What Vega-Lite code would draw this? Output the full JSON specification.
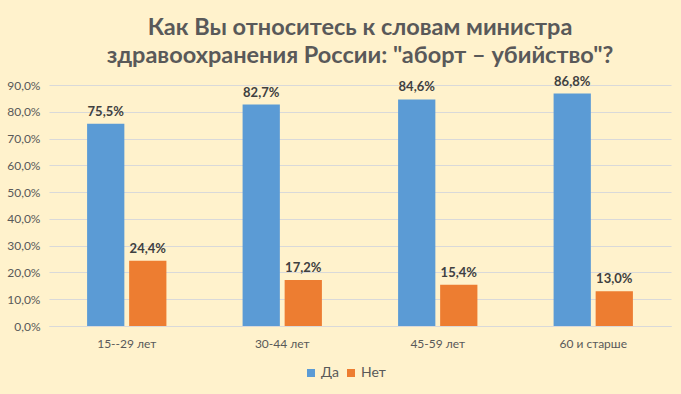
{
  "$schema": "https://vega.github.io/schema/vega-lite/v6.json",
  "autosize": "none",
  "width": 622,
  "height": 241,
  "padding": {"left": 49, "top": 85, "right": 10, "bottom": 68},
  "background": "#FFF2CC",
  "config": {
    "locale": {"number": {"decimal": ",", "thousands": " ", "grouping": [3], "currency": ["", " ₽"]}},
    "view": {"stroke": null},
    "font": "Lato"
  },
  "title": {
    "text": ["Как Вы относитесь к словам министра", "здравоохранения России: \"аборт – убийство\"?"],
    "font": "Lato",
    "fontSize": 23.5,
    "fontWeight": "bold",
    "color": "#595959",
    "lineHeight": 28,
    "anchor": "middle",
    "frame": "group",
    "offset": 8
  },
  "data": {
    "values": [
      {"group": "15--29 лет", "answer": "Да", "value": 0.755},
      {"group": "15--29 лет", "answer": "Нет", "value": 0.244},
      {"group": "30-44 лет", "answer": "Да", "value": 0.827},
      {"group": "30-44 лет", "answer": "Нет", "value": 0.172},
      {"group": "45-59 лет", "answer": "Да", "value": 0.846},
      {"group": "45-59 лет", "answer": "Нет", "value": 0.154},
      {"group": "60 и старше", "answer": "Да", "value": 0.868},
      {"group": "60 и старше", "answer": "Нет", "value": 0.130}
    ]
  },
  "encoding": {
    "x": {
      "field": "group",
      "type": "nominal",
      "sort": null,
      "scale": {"paddingInner": 0.49, "paddingOuter": 0.245},
      "axis": {
        "title": null,
        "labelAngle": 0,
        "labelColor": "#595959",
        "labelFontSize": 12,
        "labelPadding": 12,
        "ticks": false,
        "domainColor": "#D9D9D9",
        "grid": false
      }
    },
    "xOffset": {"field": "answer", "type": "nominal", "scale": {"paddingInner": 0.114}},
    "y": {
      "field": "value",
      "type": "quantitative",
      "scale": {"domain": [0, 0.9]},
      "axis": {
        "title": null,
        "format": ".1%",
        "values": [0, 0.1, 0.2, 0.3, 0.4, 0.5, 0.6, 0.7, 0.8, 0.9],
        "labelColor": "#595959",
        "labelFontSize": 12,
        "labelPadding": 9,
        "domain": false,
        "ticks": false,
        "gridColor": "#D9D9D9"
      }
    }
  },
  "layer": [
    {
      "mark": {"type": "bar"},
      "encoding": {
        "color": {
          "field": "answer",
          "type": "nominal",
          "scale": {"domain": ["Да", "Нет"], "range": ["#5B9BD5", "#ED7D31"]},
          "legend": {
            "title": null,
            "orient": "none",
            "direction": "horizontal",
            "legendX": 255,
            "legendY": 281,
            "symbolType": "square",
            "symbolSize": 64,
            "symbolStrokeWidth": 0,
            "labelFontSize": 14,
            "labelColor": "#595959",
            "columnPadding": 5,
            "labelOffset": 3
          }
        }
      }
    },
    {
      "mark": {"type": "text", "dy": -12, "fontWeight": "bold", "fontSize": 13, "color": "#404040"},
      "encoding": {
        "text": {"field": "value", "type": "quantitative", "format": ".1%"}
      }
    }
  ]
}
